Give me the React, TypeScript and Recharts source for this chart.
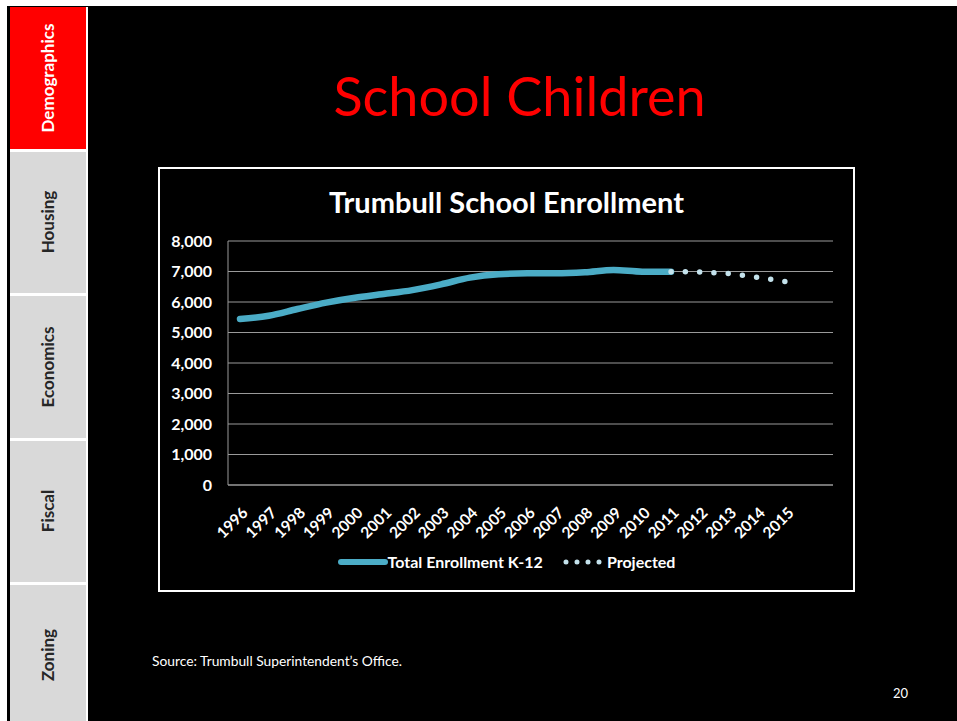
import React from "react";
import { LineChart, Line, XAxis, YAxis, CartesianGrid, Legend } from "recharts";

const years = [
  "1996", "1997", "1998", "1999", "2000", "2001", "2002", "2003", "2004", "2005",
  "2006", "2007", "2008", "2009", "2010", "2011", "2012", "2013", "2014", "2015"
];
const enrollment = [
  5440, 5550, 5770, 5980, 6140, 6260, 6390, 6580, 6800, 6910,
  6940, 6940, 6975, 7050, 6995, 6995, null, null, null, null
];
const projected = [
  null, null, null, null, null, null, null, null, null, null,
  null, null, null, null, null, 6995, 6980, 6930, 6810, 6665
];
const yTicks = [0, 1000, 2000, 3000, 4000, 5000, 6000, 7000, 8000];
const tabs = ["Demographics", "Housing", "Economics", "Fiscal", "Zoning"];

const data = years.map((year, i) => ({
  year,
  enrollment: enrollment[i],
  projected: projected[i]
}));

const font = "Lato, 'Open Sans', sans-serif";

function YearTick(props: any) {
  const { x, y, payload } = props;
  return (
    <g transform={`translate(${x + 6},${y + 18}) rotate(-45)`}>
      <text x={0} y={0} textAnchor="end" dominantBaseline="middle" fill="#fff" fontSize={15.5} fontWeight={700} fontFamily={font}>
        {payload.value}
      </text>
    </g>
  );
}

function LegendContent() {
  return (
    <div style={{ display: "flex", justifyContent: "center", alignItems: "center", fontFamily: font, fontSize: 16, fontWeight: 700, color: "#fff", lineHeight: "20px" }}>
      <svg width={50} height={10}>
        <line x1={3} y1={5} x2={47} y2={5} stroke="#4bacc6" strokeWidth={6} strokeLinecap="round" />
      </svg>
      <span>Total Enrollment K-12</span>
      <svg width={42} height={10} style={{ marginLeft: 20 }}>
        <line x1={3} y1={5} x2={38} y2={5} stroke="#c4e2ec" strokeWidth={5} strokeLinecap="round" strokeDasharray="0 11" />
      </svg>
      <span style={{ marginLeft: 2 }}>Projected</span>
    </div>
  );
}

export default function App() {
  return (
    <div style={{ position: "absolute", left: 0, top: 0, width: 957, height: 721, background: "#fff", overflow: "hidden", fontFamily: font }}>
      <div style={{ position: "absolute", left: 7, top: 6, width: 950, height: 715, background: "#000" }} />
      <div style={{ position: "absolute", left: 10, top: 7, width: 78, height: 714, background: "#fff" }} />
      {tabs.map((t, i) => {
        const top = 7 + i * 144.5;
        const h = i === 4 ? 721 - top : 141.5;
        const active = i === 0;
        return (
          <div key={t} style={{ position: "absolute", left: 10, top, width: 76, height: h, background: active ? "#ff0000" : "#d9d9d9" }}>
            <div style={{ position: "absolute", left: 37, top: i === 4 ? 70 : h / 2, transform: "translate(-50%, -50%) rotate(-90deg)", whiteSpace: "nowrap", fontSize: 17, fontWeight: 700, color: active ? "#fff" : "#262626" }}>
              {t}
            </div>
          </div>
        );
      })}
      <div style={{ position: "absolute", left: 88, width: 869, top: 64, textAlign: "center", color: "#ff0000", fontSize: 54, lineHeight: "64px" }}>
        <span style={{ position: "relative", left: -3 }}>School Children</span>
      </div>
      <div style={{ position: "absolute", left: 158, top: 167, width: 693, height: 421, border: "2px solid #fff", background: "#000" }}>
        <div style={{ position: "absolute", left: 0, top: 15, width: 693, textAlign: "center", color: "#fff", fontSize: 29, fontWeight: 700 }}>
          Trumbull School Enrollment
        </div>
        <LineChart width={693} height={421} data={data} margin={{ top: 72, right: 20, left: 0, bottom: 0 }}>
          <CartesianGrid horizontal vertical={false} stroke="#9a9a9a" />
          <XAxis
            dataKey="year"
            height={105}
            interval={0}
            tickLine={false}
            axisLine={{ stroke: "#9a9a9a" }}
            tick={<YearTick />}
            padding={{ left: 12, right: 47 }}
          />
          <YAxis
            width={68}
            domain={[0, 8000]}
            ticks={yTicks}
            tickLine={false}
            axisLine={{ stroke: "#9a9a9a" }}
            tick={{ fill: "#fff", fontSize: 16, fontWeight: 700, fontFamily: font }}
            tickFormatter={(v: number) => v.toLocaleString("en-US")}
            tickMargin={10}
          />
          <Legend verticalAlign="middle" content={<LegendContent />} wrapperStyle={{ top: 383, left: 0, width: 693 }} />
          <Line type="monotone" dataKey="enrollment" stroke="#4bacc6" strokeWidth={6.5} dot={false} strokeLinecap="round" connectNulls={false} isAnimationActive={false} />
          <Line type="monotone" dataKey="projected" stroke="#c4e2ec" strokeWidth={5.5} dot={false} strokeLinecap="round" strokeDasharray="0 14.3" isAnimationActive={false} />
        </LineChart>
      </div>
      <div style={{ position: "absolute", left: 152, top: 652, color: "#fff", fontSize: 13.8 }}>
        Source: Trumbull Superintendent’s Office.
      </div>
      <div style={{ position: "absolute", left: 893, top: 685, color: "#fff", fontSize: 13 }}>20</div>
    </div>
  );
}
